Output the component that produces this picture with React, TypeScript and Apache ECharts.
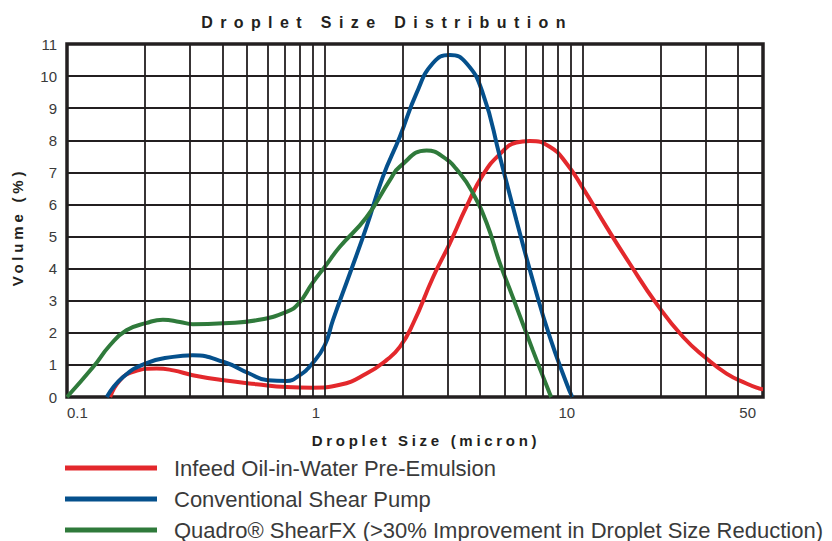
import React, { useEffect, useRef } from 'react';
import * as echarts from 'echarts';

const seriesNames = [
  'Infeed Oil-in-Water Pre-Emulsion',
  'Conventional Shear Pump',
  'Quadro® ShearFX (>30% Improvement in Droplet Size Reduction)',
];
const seriesColors = ['#e3282c', '#05508c', '#2f7a3b'];

// [droplet size (micron), volume (%)]
const infeedData = [
  [0.147, 0], [0.1603, 0.52], [0.1806, 0.78], [0.2228, 0.89], [0.2584, 0.83], [0.307, 0.68],
  [0.406, 0.52], [0.543, 0.4], [0.71, 0.31], [0.895, 0.29], [1.143, 0.38], [1.45, 0.73],
  [1.734, 1.15], [1.953, 1.56], [2.199, 2.29], [2.63, 3.74], [3.051, 4.79], [3.54, 5.93],
  [4.1, 6.92], [4.77, 7.57], [5.53, 7.93], [6.23, 7.98], [7.45, 7.8], [8.65, 7.28],
  [10.03, 6.5], [12.36, 5.3], [15.2, 4.16], [19.31, 2.91], [24.5, 1.87], [30.2, 1.2],
  [36.1, 0.73], [43.1, 0.42], [48.5, 0.26], [50, 0.24],
];
const pumpData = [
  [0.1426, 0], [0.165, 0.62], [0.2023, 1.05], [0.2576, 1.25], [0.307, 1.3], [0.406, 1.09],
  [0.507, 0.74], [0.601, 0.52], [0.71, 0.5], [0.792, 0.66], [0.895, 1.05], [1.0, 1.62],
  [1.074, 2.39], [1.25, 3.85], [1.45, 5.3], [1.678, 6.86], [1.953, 8.11], [2.267, 9.47],
  [2.622, 10.4], [3.051, 10.66], [3.54, 10.4], [4.095, 9.47], [4.77, 7.49], [5.53, 5.51],
  [6.4, 3.64], [7.45, 1.87], [8.65, 0.43], [9.1, 0],
];
const quadroData = [
  [0.1, 0], [0.1265, 0.94], [0.147, 1.62], [0.17, 2.08], [0.2023, 2.3], [0.2355, 2.41],
  [0.274, 2.34], [0.307, 2.27], [0.406, 2.3], [0.543, 2.39], [0.71, 2.65], [0.792, 2.92],
  [0.895, 3.55], [1.0, 4.06], [1.143, 4.68], [1.45, 5.6], [1.787, 6.76], [1.953, 7.18],
  [2.48, 7.68], [2.865, 7.49], [3.33, 6.98], [3.75, 6.35], [4.24, 5.42], [4.77, 4.17],
  [5.35, 3.12], [6.4, 1.46], [7.45, 0.1], [7.55, 0],
];

const xGridValues = [0.2, 0.3, 0.4, 0.5, 0.6, 0.7, 0.8, 0.9, 1, 2, 3, 4, 5, 6, 7, 8, 9, 10, 20, 30, 40];
const xMin = 0.1;
const xMax = 50;
const yMin = 0;
const yMax = 11;
const yInterval = 1;

const titleText = 'Droplet Size Distribution';
const xAxisTitle = 'Droplet Size (micron)';
const yAxisTitle = 'Volume (%)';

const FONT = '"Liberation Sans", Arial, Helvetica, sans-serif';
const INK = '#231f20';
const LABEL = '#3a3a3a';

const letterSpacings: Record<string, number> = {
  [titleText]: 7.4,
  [xAxisTitle]: 3.7,
  [yAxisTitle]: 3.8,
};

export default function App() {
  const ref = useRef<HTMLDivElement>(null);

  useEffect(() => {
    const el = ref.current;
    if (!el) return;
    const chart = echarts.init(el, null, { renderer: 'svg' });

    const near = (a: number, b: number) => Math.abs(a - b) < 1e-6 * Math.max(1, b);

    const option: any = {
      animation: false,
      backgroundColor: '#ffffff',
      grid: {
        left: 67,
        top: 44,
        width: 696,
        height: 353,
        show: true,
        borderColor: INK,
        borderWidth: 3.5,
        backgroundColor: 'transparent',
        containLabel: false,
      },
      xAxis: {
        type: 'log',
        logBase: 10,
        min: xMin,
        max: xMax,
        axisLine: { show: false },
        axisTick: { show: false },
        splitLine: { show: false },
        axisLabel: {
          margin: 8,
          fontSize: 15,
          fontFamily: FONT,
          color: LABEL,
          showMinLabel: true,
          showMaxLabel: true,
          alignMinLabel: 'left',
          alignMaxLabel: 'right',
          formatter: (v: number) => {
            if (near(v, 1)) return '{a|1}';
            if (near(v, 10)) return '{b|10}';
            if (near(v, 0.1)) return '0.1';
            if (near(v, 50)) return '{c|50}';
            return '';
          },
          rich: {
            a: { fontSize: 15, fontFamily: FONT, color: LABEL, padding: [0, 18, 0, 0] },
            b: { fontSize: 15, fontFamily: FONT, color: LABEL, padding: [0, 32, 0, 0] },
            c: { fontSize: 15, fontFamily: FONT, color: LABEL, padding: [0, 7, 0, 0] },
          },
        },
      },
      yAxis: {
        type: 'value',
        min: yMin,
        max: yMax,
        interval: yInterval,
        axisLine: { show: false },
        axisTick: { show: false },
        axisLabel: { margin: 10, fontSize: 15, fontFamily: FONT, color: LABEL },
        splitLine: { show: true, lineStyle: { color: INK, width: 1.8 } },
      },
      legend: {
        orient: 'vertical',
        left: 65,
        top: 457,
        height: 100,
        padding: 0,
        itemWidth: 92,
        itemHeight: 5,
        itemGap: 9,
        icon: 'rect',
        selectedMode: false,
        data: seriesNames,
        textStyle: {
          fontSize: 22,
          lineHeight: 22,
          fontFamily: FONT,
          color: '#3a3a3a',
          padding: [0, 0, 0, 12],
        },
      },
      graphic: [
        {
          type: 'text',
          x: 387,
          y: 22,
          style: {
            text: titleText,
            font: `bold 16px ${FONT}`,
            fill: INK,
            align: 'center',
            verticalAlign: 'middle',
            textAlign: 'center',
            textVerticalAlign: 'middle',
          },
        },
        {
          type: 'text',
          x: 426,
          y: 440,
          style: {
            text: xAxisTitle,
            font: `bold 15px ${FONT}`,
            fill: INK,
            align: 'center',
            verticalAlign: 'middle',
            textAlign: 'center',
            textVerticalAlign: 'middle',
          },
        },
        {
          type: 'text',
          x: 17.5,
          y: 227,
          rotation: Math.PI / 2,
          style: {
            text: yAxisTitle,
            font: `bold 15px ${FONT}`,
            fill: INK,
            align: 'center',
            verticalAlign: 'middle',
            textAlign: 'center',
            textVerticalAlign: 'middle',
          },
        },
      ],
      series: [
        {
          name: '__grid',
          type: 'line',
          data: [],
          z: 1,
          silent: true,
          markLine: {
            silent: true,
            symbol: 'none',
            animation: false,
            label: { show: false },
            emphasis: { disabled: true },
            lineStyle: { color: INK, width: 1.8, type: 'solid' },
            data: xGridValues.map((v) => ({ xAxis: v })),
          },
        },
        ...[infeedData, pumpData, quadroData].map((d, i) => ({
          name: seriesNames[i],
          type: 'line',
          data: d,
          z: 3,
          smooth: 0.5,
          showSymbol: false,
          symbol: 'none',
          color: seriesColors[i],
          lineStyle: { color: seriesColors[i], width: 4 },
          itemStyle: { color: seriesColors[i] },
          emphasis: { disabled: true },
        })),
      ],
    };

    chart.setOption(option);

    const applySpacing = () => {
      el.querySelectorAll('text').forEach((t) => {
        const s = letterSpacings[(t.textContent || '').trim()];
        if (s) {
          t.setAttribute('letter-spacing', String(s));
          (t as SVGTextElement).style.letterSpacing = s + 'px';
        }
      });
    };
    applySpacing();
    chart.on('finished', applySpacing);
    const raf = requestAnimationFrame(applySpacing);

    return () => {
      cancelAnimationFrame(raf);
      chart.dispose();
    };
  }, []);

  return (
    <div
      ref={ref}
      style={{ position: 'fixed', left: 0, top: 0, width: 832, height: 541, background: '#fff' }}
    />
  );
}
